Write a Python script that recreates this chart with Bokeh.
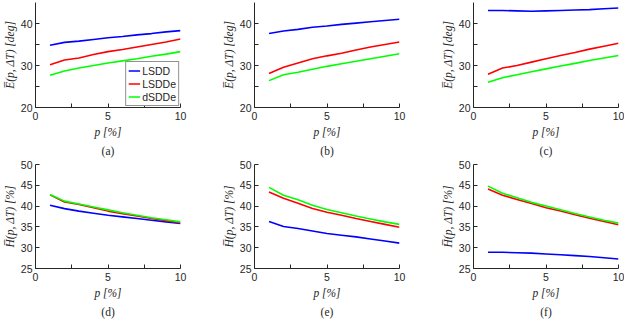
from bokeh.plotting import figure
from bokeh.layouts import row, column
from bokeh.models import FixedTicker, Title, Legend, LegendItem
from bokeh.embed import file_html
from bokeh.resources import INLINE

# ---------------- data ----------------
p_pct = [1, 2, 3, 4, 5, 6, 7, 8, 9, 10]
series_names = ["LSDD", "LSDDe", "dSDDe"]
series_colors = ["#0000ff", "#ff0000", "#00ff00"]

# Mean angular error E(p, dT) [deg]
E_a_LSDD = [34.8, 35.5, 35.8, 36.2, 36.6, 36.9, 37.3, 37.6, 38.0, 38.3]
E_a_LSDDe = [30.2, 31.3, 31.8, 32.6, 33.3, 33.8, 34.4, 35.0, 35.6, 36.3]
E_a_dSDDe = [27.7, 28.7, 29.4, 30.0, 30.6, 31.1, 31.6, 32.2, 32.7, 33.3]

E_b_LSDD = [37.6, 38.2, 38.6, 39.1, 39.4, 39.8, 40.1, 40.4, 40.7, 41.0]
E_b_LSDDe = [28.1, 29.6, 30.6, 31.6, 32.3, 32.9, 33.7, 34.4, 35.0, 35.6]
E_b_dSDDe = [26.4, 27.8, 28.4, 29.1, 29.8, 30.4, 31.0, 31.6, 32.2, 32.8]

E_c_LSDD = [43.1, 43.1, 43.0, 42.9, 43.0, 43.1, 43.2, 43.3, 43.5, 43.7]
E_c_LSDDe = [27.9, 29.4, 30.0, 30.8, 31.6, 32.4, 33.1, 33.9, 34.6, 35.3]
E_c_dSDDe = [26.0, 27.1, 27.8, 28.5, 29.2, 29.9, 30.5, 31.2, 31.8, 32.4]

# Mean H(p, dT) [%]
H_d_LSDD = [40.2, 39.4, 38.8, 38.3, 37.8, 37.4, 37.0, 36.6, 36.2, 35.8]
H_d_LSDDe = [42.7, 41.0, 40.4, 39.6, 38.8, 38.2, 37.6, 37.0, 36.5, 36.0]
H_d_dSDDe = [42.8, 41.2, 40.5, 39.8, 39.1, 38.4, 37.8, 37.2, 36.7, 36.2]

H_e_LSDD = [36.3, 35.1, 34.6, 34.0, 33.4, 33.0, 32.6, 32.1, 31.6, 31.1]
H_e_LSDDe = [43.4, 41.9, 40.7, 39.4, 38.5, 37.8, 37.0, 36.3, 35.6, 34.9]
H_e_dSDDe = [44.5, 42.6, 41.5, 40.2, 39.2, 38.4, 37.6, 36.9, 36.2, 35.6]

H_f_LSDD = [28.9, 28.9, 28.8, 28.7, 28.5, 28.3, 28.1, 27.9, 27.6, 27.3]
H_f_LSDDe = [44.1, 42.6, 41.6, 40.6, 39.6, 38.8, 37.9, 37.1, 36.3, 35.5]
H_f_dSDDe = [44.8, 43.1, 42.0, 40.9, 40.0, 39.1, 38.2, 37.4, 36.6, 35.9]

x_ticks = [0, 5, 10]
x_minor = [2.5, 7.5]
E_ticks = [20, 30, 40]
E_minor = [25, 35]
H_ticks = [25, 30, 35, 40, 45, 50]

E_label = "E\u0305(p, \u0394T) [deg]"
H_label = "H\u0305(p, \u0394T) [%]"
x_label = "p [%]"
captions = ["(a)", "(b)", "(c)", "(d)", "(e)", "(f)"]

SANS = "Liberation Sans"
SERIF = "Liberation Serif"


def make_panel(ys, yrange, yticks, yminor, ylabel, caption, width, height,
               bl, br, bt, bb, legend=False):
    p = figure(width=width, height=height, x_range=(0, 10), y_range=yrange,
               output_backend="svg", toolbar_location=None,
               min_border_left=bl, min_border_right=br,
               min_border_top=bt, min_border_bottom=bb)
    p.outline_line_color = None
    p.grid.visible = False
    p.background_fill_color = "white"
    items = []
    for y, name, col in zip(ys, series_names, series_colors):
        r = p.line(p_pct, y, line_color=col, line_width=1.6)
        items.append(LegendItem(label=name, renderers=[r]))
    for ax in (p.xaxis[0], p.yaxis[0]):
        ax.axis_line_color = "#262626"
        ax.axis_line_width = 1
        ax.major_tick_in = 4
        ax.major_tick_out = 0
        ax.minor_tick_in = 4
        ax.minor_tick_out = 0
        ax.major_tick_line_color = "#262626"
        ax.minor_tick_line_color = "#262626"
        ax.major_label_text_font = SANS
        ax.major_label_text_font_size = "10.5px"
        ax.major_label_text_color = "#262626"
        ax.axis_label_text_font = SERIF
        ax.axis_label_text_font_style = "italic"
        ax.axis_label_text_font_size = "11.5px"
        ax.axis_label_text_color = "#262626"
    p.xaxis.ticker = FixedTicker(ticks=x_ticks, minor_ticks=x_minor)
    p.yaxis.ticker = FixedTicker(ticks=yticks, minor_ticks=yminor)
    p.xaxis.major_label_standoff = 4
    p.yaxis.major_label_standoff = 3
    p.xaxis.axis_label = x_label
    p.yaxis.axis_label = ylabel
    p.xaxis.axis_label_standoff = 3
    p.yaxis.axis_label_standoff = 2
    t = Title(text=caption, align="center", text_font=SERIF,
              text_font_style="normal", text_font_size="11.5px",
              text_color="#262626", standoff=4)
    p.add_layout(t, "below")
    if legend:
        lg = Legend(items=items, location="bottom_right",
                    label_text_font=SANS, label_text_font_size="10.5px",
                    label_text_color="#262626",
                    border_line_color="#262626", border_line_width=1,
                    background_fill_alpha=1.0,
                    margin=1, padding=2, spacing=0,
                    label_height=13, glyph_height=13, glyph_width=12,
                    label_standoff=2)
        p.add_layout(lg)
    return p


W = [219, 219, 186]
BR = [39, 39, 6]
top_sets = [(E_a_LSDD, E_a_LSDDe, E_a_dSDDe),
            (E_b_LSDD, E_b_LSDDe, E_b_dSDDe),
            (E_c_LSDD, E_c_LSDDe, E_c_dSDDe)]
bot_sets = [(H_d_LSDD, H_d_LSDDe, H_d_dSDDe),
            (H_e_LSDD, H_e_LSDDe, H_e_dSDDe),
            (H_f_LSDD, H_f_LSDDe, H_f_dSDDe)]

top = [make_panel(top_sets[i], (20, 45), E_ticks, E_minor, E_label, captions[i],
                  W[i], 158, 29, BR[i], 2, 50, legend=(i == 0)) for i in range(3)]
bot = [make_panel(bot_sets[i], (25, 50), H_ticks, [], H_label, captions[3 + i],
                  W[i], 161, 29, BR[i], 6, 49) for i in range(3)]

layout = column(row(*top), row(*bot))
open("out.html", "w").write(file_html(layout, INLINE))
